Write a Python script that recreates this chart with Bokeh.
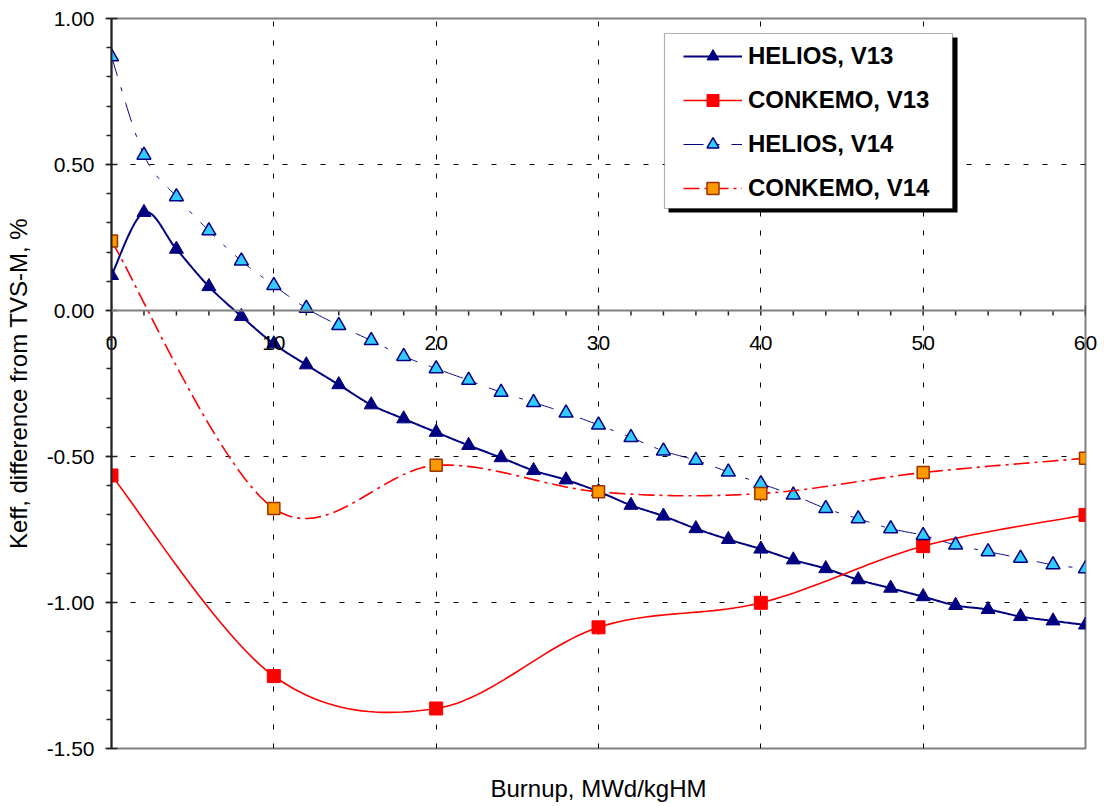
import numpy as np
from bokeh.plotting import figure
from bokeh.models import (Range1d, SingleIntervalTicker, FixedTicker, NumeralTickFormatter,
                          Span, BoxAnnotation, Legend, LegendItem, LinearAxis)
from bokeh.core.properties import value
from bokeh.embed import file_html
from bokeh.resources import INLINE

# ---------------- data ----------------
burnup_helios = [0, 2, 4, 6, 8, 10, 12, 14, 16, 18, 20, 22, 24, 26, 28, 30,
                 32, 34, 36, 38, 40, 42, 44, 46, 48, 50, 52, 54, 56, 58, 60]
helios_v13 = [0.120, 0.336, 0.210, 0.082, -0.020, -0.114, -0.186, -0.254, -0.323, -0.371,
              -0.417, -0.462, -0.504, -0.548, -0.580, -0.620, -0.667, -0.704, -0.747, -0.784,
              -0.817, -0.854, -0.884, -0.922, -0.951, -0.980, -1.010, -1.024, -1.048, -1.063,
              -1.077]
helios_v14 = [0.869, 0.532, 0.390, 0.273, 0.170, 0.086, 0.008, -0.051, -0.103, -0.157,
              -0.199, -0.239, -0.280, -0.315, -0.351, -0.392, -0.435, -0.481, -0.513, -0.553,
              -0.593, -0.632, -0.678, -0.713, -0.747, -0.770, -0.803, -0.826, -0.848, -0.871,
              -0.884]
burnup_conkemo = [0, 10, 20, 30, 40, 50, 60]
conkemo_v13 = [-0.565, -1.252, -1.363, -1.085, -1.001, -0.807, -0.700]
conkemo_v14 = [0.238, -0.678, -0.530, -0.621, -0.627, -0.555, -0.506]

series_names = ["HELIOS, V13", "CONKEMO, V13", "HELIOS, V14", "CONKEMO, V14"]
x_major_ticks = [0, 10, 20, 30, 40, 50, 60]
x_tick_labels = ["0", "10", "20", "30", "40", "50", "60"]
x_minor_ticks = [t for t in range(0, 61, 2) if t % 10 != 0]
x_grid_ticks = [10, 20, 30, 40, 50]
y_grid_ticks = [0.5, -0.5, -1.0]
x_title = "Burnup, MWd/kgHM"
y_title = "Keff, difference from TVS-M, %"

# ---------------- layout helpers ----------------
W, H = 1104, 806
FL, FR, FT, FB = 111, 1085, 18, 748
XMIN, XMAX, YMIN, YMAX = 0.0, 60.0, -1.5, 1.0
FONT = "Liberation Sans"


def px_x(px):
    return XMIN + (px - FL) * (XMAX - XMIN) / (FR - FL)


def px_y(py):
    return YMAX - (py - FT) * (YMAX - YMIN) / (FB - FT)


DY = (YMAX - YMIN) / (FB - FT)  # data units per pixel (vertical)


def smooth(xs, ys, n=24):
    """Excel-like smoothed line (Catmull-Rom bezier through the points)."""
    pts = np.column_stack([xs, ys]).astype(float)
    out = [pts[0]]
    t = np.linspace(0, 1, n + 1)[1:, None]
    for i in range(len(pts) - 1):
        p0 = pts[i - 1] if i > 0 else pts[i]
        p1 = pts[i]
        p2 = pts[i + 1]
        p3 = pts[i + 2] if i + 2 < len(pts) else pts[i + 1]
        c1 = p1 + (p2 - p0) / 6.0
        c2 = p2 - (p3 - p1) / 6.0
        seg = (1 - t) ** 3 * p1 + 3 * (1 - t) ** 2 * t * c1 + 3 * (1 - t) * t ** 2 * c2 + t ** 3 * p2
        out.extend(seg)
    out = np.array(out)
    return out[:, 0], out[:, 1]


p = figure(width=W, height=H, x_range=Range1d(XMIN, XMAX), y_range=Range1d(YMIN, YMAX),
           output_backend="svg", toolbar_location=None,
           min_border_left=FL, min_border_right=W - FR, min_border_top=FT, min_border_bottom=H - FB)
p.background_fill_color = "white"
p.border_fill_color = "white"
p.outline_line_color = "#808080"
p.outline_line_width = 2

# grids
p.xgrid.ticker = FixedTicker(ticks=x_grid_ticks)
p.ygrid.ticker = FixedTicker(ticks=y_grid_ticks)
for g in (p.xgrid[0], p.ygrid[0]):
    g.grid_line_color = "black"
    g.grid_line_width = 1
    g.grid_line_dash = "5 14"

# y axis
ya = p.yaxis[0]
ya.ticker = SingleIntervalTicker(interval=0.5, num_minor_ticks=5)
ya.formatter = NumeralTickFormatter(format="0.00")
ya.major_label_text_font = FONT
ya.major_label_text_font_size = "21px"
ya.major_label_text_color = "black"
ya.major_label_standoff = 11
ya.major_tick_in = 6
ya.major_tick_out = 6
ya.minor_tick_in = 0
ya.minor_tick_out = 5
ya.axis_line_color = "#222222"
ya.axis_line_width = 2
ya.major_tick_line_color = "#222222"
ya.major_tick_line_width = 1.5
ya.minor_tick_line_color = "#222222"
ya.minor_tick_line_width = 1.5
ya.axis_label = y_title
ya.axis_label_text_font = FONT
ya.axis_label_text_font_size = "24px"
ya.axis_label_text_font_style = "normal"
ya.axis_label_text_color = "black"
ya.axis_label_standoff = 12

# x axis (bottom: title only)
xa = p.xaxis[0]
xa.ticker = FixedTicker(ticks=[])
xa.axis_line_color = None
xa.major_tick_line_color = None
xa.minor_tick_line_color = None
xa.major_tick_in = 0
xa.major_tick_out = 0
xa.minor_tick_in = 0
xa.minor_tick_out = 0
xa.major_label_standoff = 0
xa.axis_label = x_title
xa.axis_label_text_font = FONT
xa.axis_label_text_font_size = "24px"
xa.axis_label_text_font_style = "normal"
xa.axis_label_text_color = "black"
xa.axis_label_standoff = 26

# x axis line crossing at y = 0
p.add_layout(Span(location=0, dimension="width", line_color="#808080", line_width=2))
p.segment(x0=x_major_ticks, x1=x_major_ticks, y0=[-5 * DY] * len(x_major_ticks),
          y1=[5 * DY] * len(x_major_ticks), line_color="#222222", line_width=1.5)
p.segment(x0=x_minor_ticks, x1=x_minor_ticks, y0=[0.0] * len(x_minor_ticks),
          y1=[-5 * DY] * len(x_minor_ticks), line_color="#222222", line_width=1.5)

# x tick labels: an 'above' axis whose labels are pushed down to just under y = 0
zero_px = FT + (YMAX - 0.0) / DY          # pixel row of y = 0
label_axis = LinearAxis(ticker=FixedTicker(ticks=x_major_ticks),
                        major_label_overrides={t: s for t, s in zip(x_major_ticks, x_tick_labels)},
                        axis_line_color=None, major_tick_line_color=None,
                        minor_tick_line_color=None, major_tick_in=0, major_tick_out=0,
                        minor_tick_in=0, minor_tick_out=0,
                        major_label_text_font=FONT, major_label_text_font_size="21px",
                        major_label_text_color="black",
                        major_label_standoff=-int(round(zero_px - FT + 39)))
p.add_layout(label_axis, "above")

# ---------------- series ----------------
items = []

sx, sy = smooth(burnup_helios, helios_v13)
l1 = p.line(sx, sy, line_color="#000080", line_width=2)
m1 = p.scatter(burnup_helios, helios_v13, marker="triangle", size=14,
               fill_color="#000080", line_color="#000080", line_width=1)
items.append(LegendItem(label=series_names[0], renderers=[l1, m1]))

sx, sy = smooth(burnup_conkemo, conkemo_v13)
l2 = p.line(sx, sy, line_color="#FF0000", line_width=1.6)
m2 = p.scatter(burnup_conkemo, conkemo_v13, marker="square", size=13,
               fill_color="#FF0000", line_color="#FF0000", line_width=1)
items.append(LegendItem(label=series_names[1], renderers=[l2, m2]))

sx, sy = smooth(burnup_helios, helios_v14)
l3 = p.line(sx, sy, line_color="#000080", line_width=1, line_dash="20 12 4 12")
m3 = p.scatter(burnup_helios, helios_v14, marker="triangle", size=14,
               fill_color="#33CCFF", line_color="#000080", line_width=1.5)
items.append(LegendItem(label=series_names[2], renderers=[l3, m3]))

sx, sy = smooth(burnup_conkemo, conkemo_v14)
l4 = p.line(sx, sy, line_color="#FF0000", line_width=1.6, line_dash="16 5 3 5")
m4 = p.scatter(burnup_conkemo, conkemo_v14, marker="square", size=12,
               fill_color="#FF9900", line_color="#993300", line_width=1.5)
items.append(LegendItem(label=series_names[3], renderers=[l4, m4]))

# ---------------- legend ----------------
shadow = BoxAnnotation(left=px_x(668), right=px_x(957), top=px_y(37), bottom=px_y(212),
                       fill_color="black", fill_alpha=1, line_color=None)
box = BoxAnnotation(left=px_x(664), right=px_x(952), top=px_y(33), bottom=px_y(208),
                    fill_color="white", fill_alpha=1, line_color="black", line_width=1.2)
p.add_layout(shadow)
p.add_layout(box)

legend = Legend(items=items, location=(683 - FL, FB - 203), orientation="vertical",
                label_text_font=FONT, label_text_font_size="24px", label_text_font_style="bold",
                label_text_color="black", glyph_width=59, glyph_height=30, label_height=30,
                spacing=14, padding=0, margin=0, label_standoff=6,
                border_line_color=None, background_fill_alpha=0)
p.add_layout(legend)

open("out.html", "w").write(file_html(p, INLINE))
